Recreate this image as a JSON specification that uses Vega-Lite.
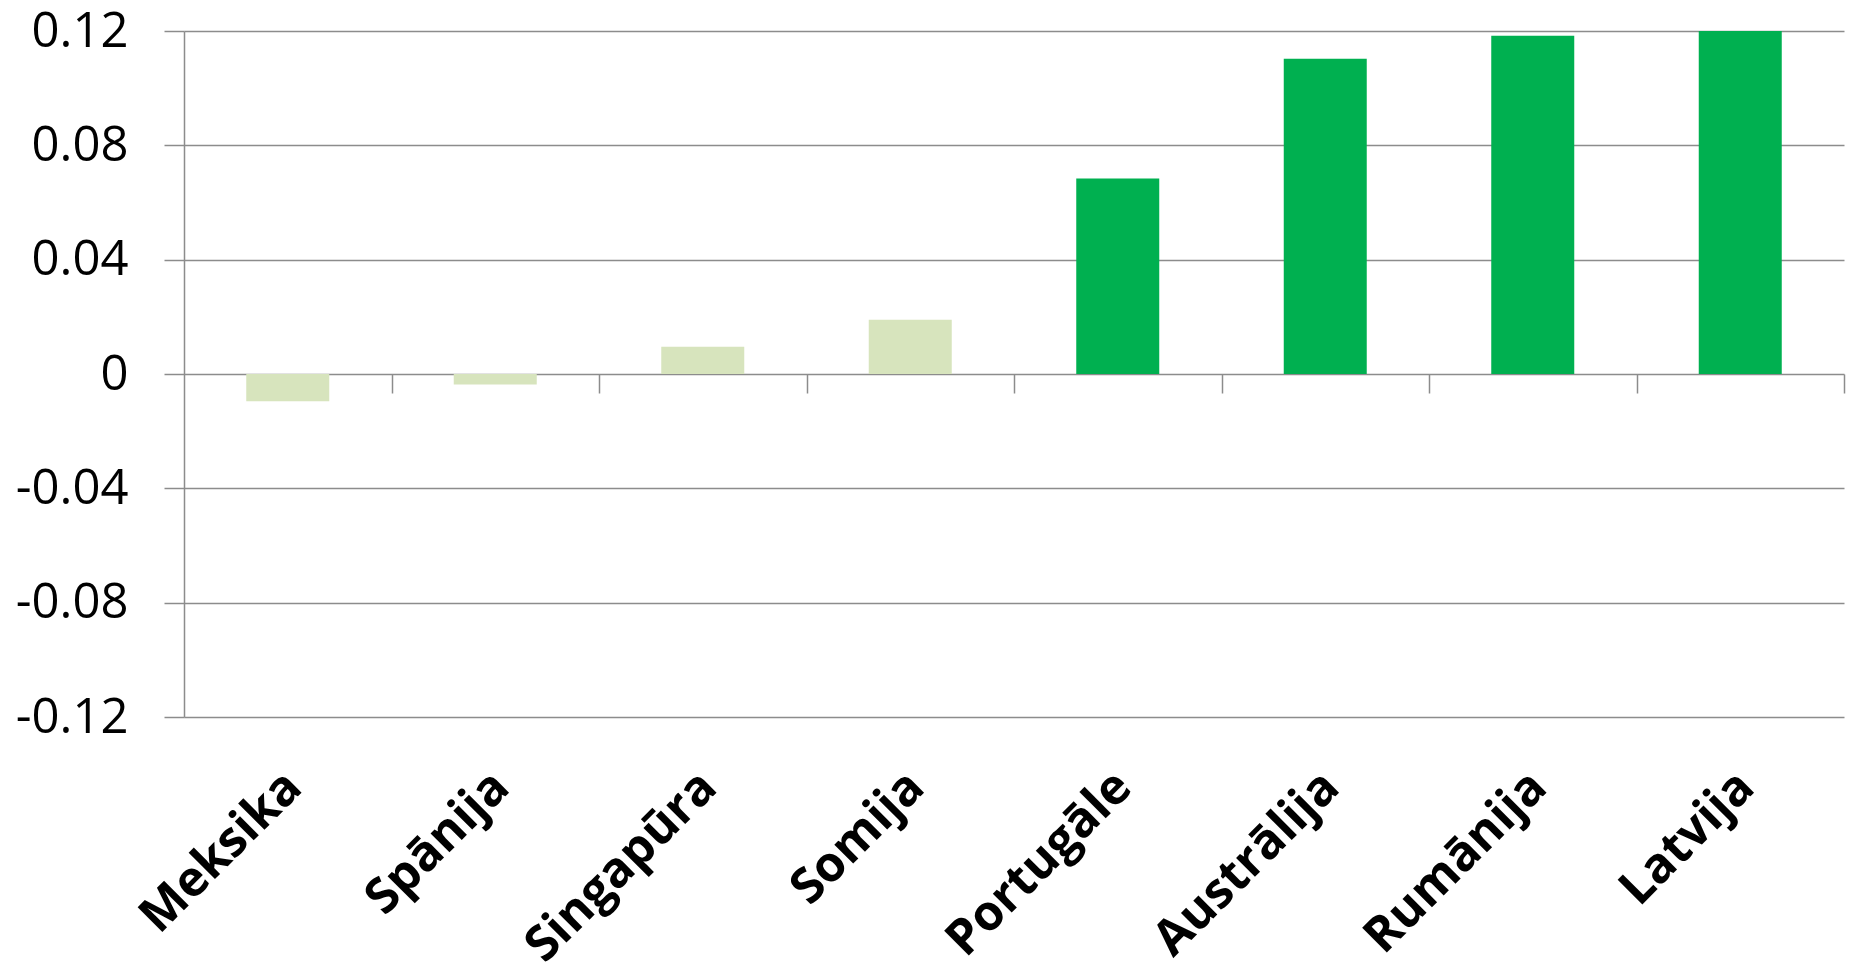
{
  "$schema": "https://vega.github.io/schema/vega-lite/v6.json",
  "width": 1660,
  "height": 686,
  "autosize": "none",
  "padding": {"left": 184, "top": 31, "right": 5, "bottom": 251},
  "background": "white",
  "config": {"view": {"stroke": null}},
  "data": {
    "values": [
      {"country": "Meksika", "value": -0.0095, "group": "low"},
      {"country": "Spānija", "value": -0.0037, "group": "low"},
      {"country": "Singapūra", "value": 0.0095, "group": "low"},
      {"country": "Somija", "value": 0.019, "group": "low"},
      {"country": "Portugāle", "value": 0.0684, "group": "high"},
      {"country": "Austrālija", "value": 0.1103, "group": "high"},
      {"country": "Rumānija", "value": 0.1183, "group": "high"},
      {"country": "Latvija", "value": 0.12, "group": "high"}
    ]
  },
  "mark": {"type": "bar"},
  "encoding": {
    "x": {
      "field": "country",
      "type": "nominal",
      "sort": null,
      "title": null,
      "scale": {"paddingInner": 0.6, "paddingOuter": 0.3},
      "axis": {
        "orient": "bottom",
        "offset": -343,
        "bandPosition": 1,
        "tickOffset": 62.25,
        "labelOffset": -74,
        "domain": false,
        "ticks": true,
        "tickSize": 19,
        "tickColor": "#8c8c8c",
        "tickWidth": 1.5,
        "labelAngle": -45,
        "labelFont": "Open Sans",
        "labelFontSize": 49,
        "labelFontWeight": "bold",
        "labelColor": "#000000",
        "labelPadding": 369,
        "labelLimit": 0,
        "labelOverlap": false,
        "grid": false
      }
    },
    "y": {
      "field": "value",
      "type": "quantitative",
      "title": null,
      "scale": {"domain": [-0.12, 0.12], "nice": false, "zero": false},
      "axis": {
        "values": [-0.12, -0.08, -0.04, 0, 0.04, 0.08, 0.12],
        "labelExpr": "'' + datum.value",
        "grid": true,
        "gridColor": "#8c8c8c",
        "gridWidth": 1.5,
        "domain": true,
        "domainColor": "#8c8c8c",
        "domainWidth": 1.5,
        "tickSize": 20,
        "tickColor": "#8c8c8c",
        "tickWidth": 1.5,
        "labelFont": "Open Sans",
        "labelFontSize": 49,
        "labelColor": "#000000",
        "labelPadding": 36
      }
    },
    "color": {
      "field": "group",
      "type": "nominal",
      "scale": {"domain": ["low", "high"], "range": ["#d7e4bd", "#00b050"]},
      "legend": null
    }
  }
}
